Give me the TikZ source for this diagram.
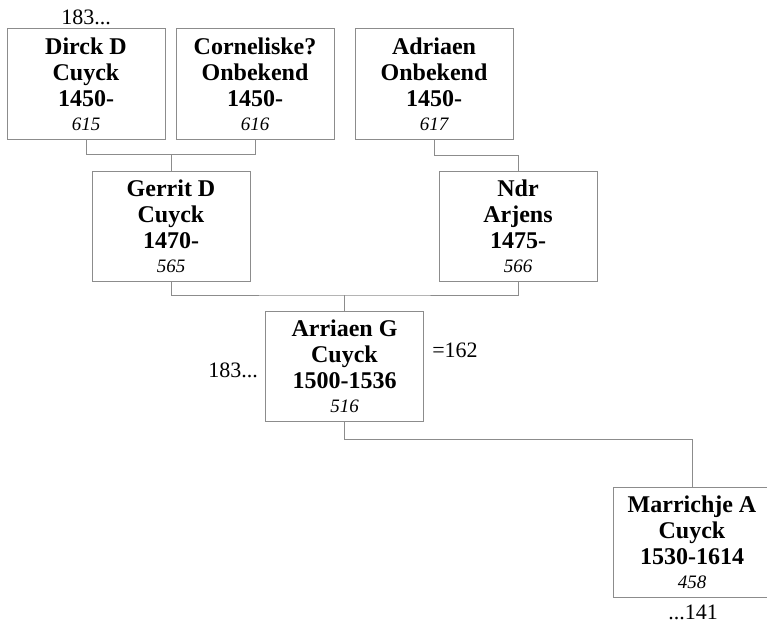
\documentclass[tikz,border=0pt]{standalone}
\usepackage{fontspec}
\setmainfont{Liberation Serif}
\usetikzlibrary{positioning,calc}
\definecolor{linegray}{HTML}{8C8C8C}
\tikzset{
  persbox/.style={draw=linegray, line width=1pt, fill=white,
    minimum width=158pt, minimum height=110pt, inner sep=0pt,
    align=center, font=\fontsize{24}{26}\selectfont\bfseries},
  link/.style={draw=linegray, line width=1pt},
  tag/.style={anchor=base, inner sep=0pt, font=\fontsize{22}{24}\selectfont},
}
\newcommand{\persnr}[1]{{\fontsize{19}{20}\selectfont\mdseries\itshape #1}}

\begin{document}
\begin{tikzpicture}[x=1pt, y=-1pt]
  \useasboundingbox (0,0) rectangle (767,626);
  \clip (0,0) rectangle (767,626);
  % grandparents
  \node[persbox] (p615) at (86,84) {Dirck D\\Cuyck\\1450-\\[-2pt]\persnr{615}};
  \node[persbox] (p616) at (255,84) {Corneliske?\\Onbekend\\1450-\\[-2pt]\persnr{616}};
  \node[persbox] (p617) at (434,84) {Adriaen\\Onbekend\\1450-\\[-2pt]\persnr{617}};
  % parents
  \node[persbox] (p565) at (171,226) {Gerrit D\\Cuyck\\1470-\\[-2pt]\persnr{565}};
  \node[persbox] (p566) at (518,226) {Ndr\\Arjens\\1475-\\[-2pt]\persnr{566}};
  % proband and child
  \node[persbox] (p516) at (344.5,366.5) {Arriaen G\\Cuyck\\1500-1536\\[-2pt]\persnr{516}};
  \node[persbox] (p458) at (692,542.5) {Marrichje A\\Cuyck\\1530-1614\\[-2pt]\persnr{458}};
  % links
  \draw[link] (p565.north) -- ++(0,-16) coordinate (j1);
  \draw[link] (p615.south) |- (j1) -| (p616.south);
  \draw[link] (p617.south) -- ++(0,16) -| (p566.north);
  \draw[link] (p516.north) -- ++(0,-16) coordinate (j2);
  \draw[link] (p565.south) |- (j2) -| (p566.south);
  \draw[link] (p516.south) -- ++(0,17) -| (p458.north);
  % references
  \node[tag] (t183a) at (86,25) {183...};
  \node[tag] (t183b) at (233,377) {183...};
  \node[tag] (t162) at (455,357) {=162};
  \node[tag] (t141) at (693,619) {...141};
\end{tikzpicture}
\end{document}
